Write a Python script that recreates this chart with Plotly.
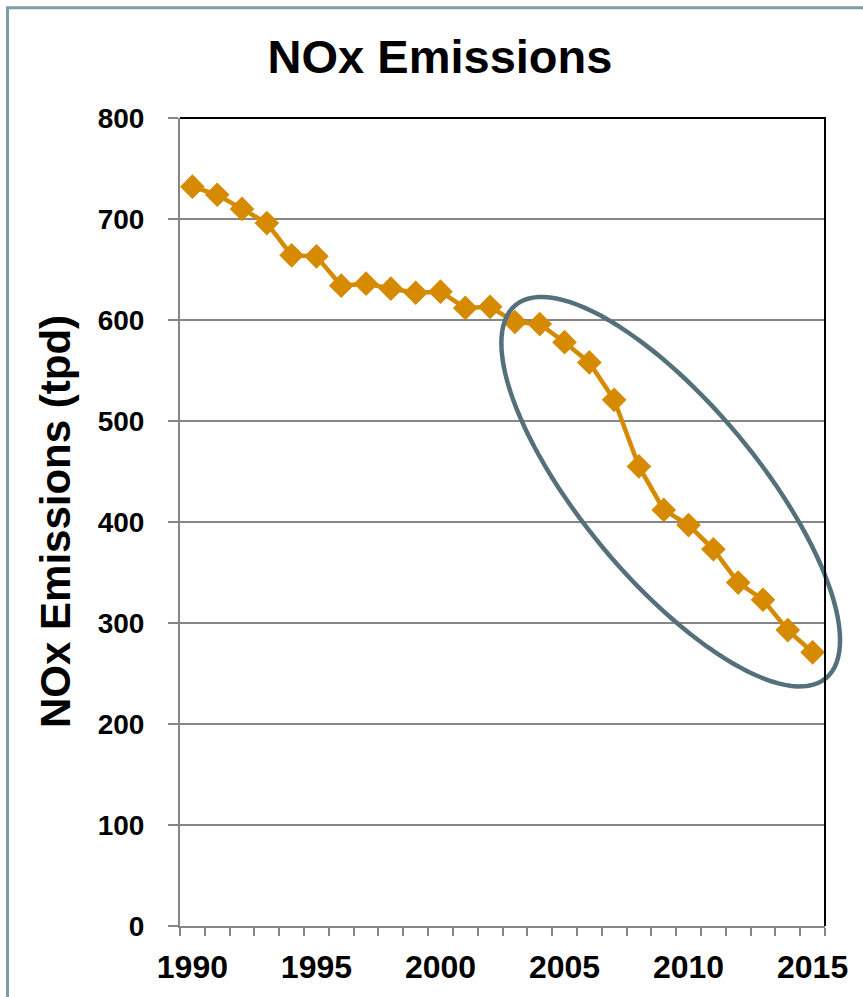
import math
import plotly.graph_objects as go

# Annual NOx emissions, tons per day
years = list(range(1990, 2016))
nox_tpd = [732, 724, 710, 696, 664, 663, 634, 636, 631, 627, 628, 612, 613,
           598, 596, 578, 558, 521, 455, 412, 397, 373, 340, 323, 293, 271]

x_tick_vals = [1990, 1995, 2000, 2005, 2010, 2015]
y_tick_vals = [0, 100, 200, 300, 400, 500, 600, 700, 800]

W, H = 863, 997
M_L, M_R, M_T, M_B = 180, 38, 118, 69
PLOT_W, PLOT_H = W - M_L - M_R, H - M_T - M_B
X_RANGE = [1989.5, 2015.5]
Y_RANGE = [0, 800]

FONT = "Arial, Liberation Sans, sans-serif"
LINE_COLOR = "#D68A00"
GRID = "#868686"
RING = "#54717B"

fig = go.Figure()
fig.add_trace(go.Scatter(
    x=years, y=nox_tpd, mode="lines+markers",
    line=dict(color=LINE_COLOR, width=4.5),
    marker=dict(symbol="diamond", size=19, color=LINE_COLOR),
    showlegend=False, cliponaxis=False,
))


def to_paper(year, value):
    return ((year - X_RANGE[0]) / (X_RANGE[1] - X_RANGE[0]),
            (value - Y_RANGE[0]) / (Y_RANGE[1] - Y_RANGE[0]))


# Highlight ring around the post-2003 decline (center in data units, radii in px);
# paper coordinates so it may run past the plot frame without clipping
ring_cx, ring_cy = 2009.28, 430.0
ring_a, ring_b, ring_theta = 243.0, 88.0, math.radians(50.3)
pts = []
for k in range(121):
    t = 2 * math.pi * k / 120
    dx = ring_a * math.cos(t) * math.cos(ring_theta) - ring_b * math.sin(t) * math.sin(ring_theta)
    dy = ring_a * math.cos(t) * math.sin(ring_theta) + ring_b * math.sin(t) * math.cos(ring_theta)
    cx, cy = to_paper(ring_cx, ring_cy)
    pts.append((cx + dx / PLOT_W, cy - dy / PLOT_H))
path = "M " + " L ".join(f"{x:.5f},{y:.5f}" for x, y in pts) + " Z"
fig.add_shape(type="path", path=path, xref="paper", yref="paper",
              line=dict(color=RING, width=4.5), layer="above")

# Black top and right edges of the plot frame
fig.add_shape(type="path", path="M 0,1 L 1,1 L 1,0",
              xref="paper", yref="paper",
              line=dict(color="black", width=2), layer="above")

# Outer chart border
fig.add_shape(type="rect", xref="paper", yref="paper",
              x0=(7.5 - M_L) / PLOT_W, x1=1.5,
              y0=-0.5, y1=1 + (M_T - 7.5) / PLOT_H,
              line=dict(color="#7D9CA8", width=3), layer="below")

fig.add_annotation(
    text="NOx Emissions (tpd)", textangle=-90,
    xref="paper", yref="paper",
    x=(55 - M_L) / PLOT_W, y=0.5,
    xanchor="center", yanchor="middle", showarrow=False,
    font=dict(family=FONT, size=42, color="black", weight="bold"),
)

fig.update_layout(
    width=W, height=H, autosize=False,
    margin=dict(l=M_L, r=M_R, t=M_T, b=M_B),
    paper_bgcolor="white", plot_bgcolor="white",
    title=dict(text="<b>NOx Emissions</b>", x=440 / W, xanchor="center",
               y=1 - 57 / H, yanchor="middle",
               font=dict(family=FONT, size=47, color="black")),
    xaxis=dict(
        range=X_RANGE, tickmode="array", tickvals=x_tick_vals,
        ticks="", showgrid=False, zeroline=False,
        showline=True, linecolor=GRID, linewidth=2,
        tickfont=dict(family=FONT, size=32, color="black", weight="bold"),
        ticklabelstandoff=12,
        minor=dict(ticks="outside", tickmode="linear", tick0=1989.5, dtick=1,
                   ticklen=8, tickwidth=2, tickcolor=GRID, showgrid=False),
    ),
    yaxis=dict(
        range=Y_RANGE, tickmode="array", tickvals=y_tick_vals,
        ticks="outside", ticklen=10, tickwidth=2, tickcolor=GRID,
        showgrid=True, gridcolor=GRID, gridwidth=2, zeroline=False,
        showline=True, linecolor=GRID, linewidth=2,
        tickfont=dict(family=FONT, size=28, color="black", weight="bold"),
        ticklabelstandoff=18,
    ),
)

fig.write_html("out.html")
